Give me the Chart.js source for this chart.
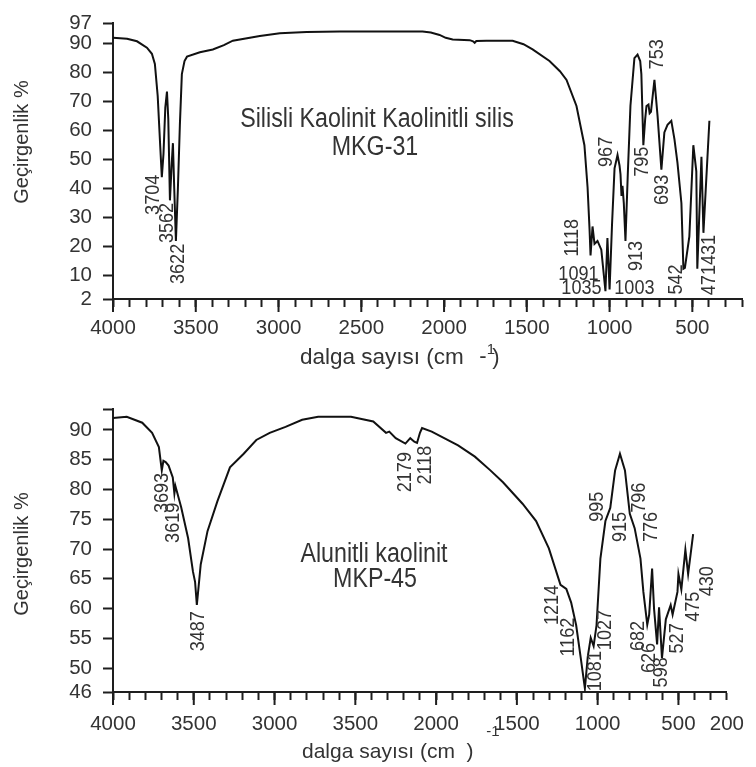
<!DOCTYPE html>
<html>
<head>
<meta charset="utf-8">
<script src="https://cdn.jsdelivr.net/npm/chart.js@4.4.7/dist/chart.umd.min.js"></script>
<style>
  html, body { margin: 0; padding: 0; background: #fff; }
  #wrap { position: relative; width: 756px; height: 767px; overflow: hidden; }
  canvas { position: absolute; left: 0; }
  #topChart { top: 0; }
  #bottomChart { top: 380px; }
</style>
</head>
<body>
<div id="wrap">
  <canvas id="topChart" width="756" height="380"></canvas>
  <canvas id="bottomChart" width="756" height="387"></canvas>
</div>
<script>
// ---- MKG-31 (Silisli Kaolinit) spectrum ----
const topWavenumbers = [4000, 3915, 3855, 3795, 3765, 3747, 3730, 3715, 3705, 3695, 3684, 3674, 3666, 3656,
  3646, 3638, 3630, 3620, 3608, 3596, 3584, 3568, 3553, 3475, 3397, 3330, 3276, 3113, 2992, 2830, 2630,
  2130, 2080, 2027, 1990, 1948, 1845, 1825, 1815, 1805, 1745, 1665, 1586, 1520, 1465, 1363, 1300, 1260,
  1200, 1152, 1133, 1121, 1115, 1103, 1091, 1073, 1050, 1025, 1013, 1000, 985, 970, 952, 940, 934, 928,
  922, 914, 904, 890, 874, 850, 831, 815, 808, 796, 785, 777, 765, 758, 750, 729, 710, 687, 669, 650,
  627, 608, 590, 566, 554, 545, 518, 494, 476, 470, 445, 433, 397];
const topTransmittance = [92, 91.7, 90.8, 88.6, 86.5, 83, 72, 55, 44, 52, 68, 73.5, 64, 36,
  48, 55.7, 40, 22, 40, 62, 79.5, 84, 85.5, 87, 88, 89.5, 91, 92.6, 93.6, 94, 94.2,
  94.2, 93.8, 93, 92, 91.4, 91.2, 90.8, 90.3, 90.9, 91, 91, 91, 89.8, 88, 84, 80.5, 77.5,
  68.5, 55, 40.5, 26, 17, 27, 21, 22, 19, 4.7, 23, 5.3, 28, 47, 51.6, 48, 45, 37.5,
  41, 35, 22, 45, 68.5, 85, 86.2, 84, 79.5, 55, 64, 68.5, 69, 66, 66.5, 77.5, 65, 46.6, 59.4, 62,
  63.4, 57, 49, 35, 12.4, 12.7, 23.6, 55, 46, 12.4, 51, 24.8, 63.4];

// ---- MKP-45 (Alunitli kaolinit) spectrum ----
const bottomWavenumbers = [4000, 3915, 3819, 3758, 3716, 3698, 3688, 3674, 3656, 3630, 3620, 3614, 3578,
  3535, 3505, 3492, 3481, 3457, 3415, 3354, 3276, 3191, 3113, 3030, 2932, 2829, 2730, 2527, 2389, 2310,
  2290, 2250, 2190, 2160, 2135, 2118, 2100, 2087, 2027, 1864, 1760, 1664, 1586, 1465, 1381, 1302, 1230,
  1194, 1164, 1133, 1103, 1079, 1061, 1043, 1025, 1007, 983, 952, 922, 892, 862, 831, 801, 771, 735,
  717, 693, 681, 663, 651, 632, 620, 602, 578, 548, 536, 506, 500, 482, 457, 440, 409];
const bottomTransmittance = [92, 92.2, 91.2, 89.5, 87.1, 83.2, 84.8, 84.6, 84, 82, 79.3, 80.6, 77,
  71.8, 66.2, 64.5, 60.6, 67.4, 73, 78, 83.7, 86, 88.3, 89.5, 90.5, 91.7, 92.2, 92.2, 91.4, 89.5,
  89.7, 88.6, 87.7, 88.6, 88, 87.8, 89.5, 90.3, 89.7, 87.4, 85.5, 83.2, 81.2, 77.6, 74.7, 70.1, 64,
  63.3, 61, 57.2, 51.4, 46.6, 52, 55.1, 53.7, 57.2, 68.4, 74.7, 76.9, 83.2, 86, 83.2, 75.9, 73.5, 68.4,
  62.8, 57.3, 59, 66.7, 60, 54, 60.2, 51.7, 58.2, 60.6, 59, 62.8, 65.8, 63.2, 69.9, 65.8, 72.5];

// ---- axis ticks ----
const xMajorTicks = [4000, 3500, 3000, 2500, 2000, 1500, 1000, 500];
const topXTickValues = [4000, 3500, 3000, 2500, 2000, 1500, 1000, 500];
const topXTickLabels = ['4000', '3500', '3000', '2500', '2000', '1500', '1000', '500'];
const bottomXTickValues = [4000, 3500, 3000, 2500, 2000, 1500, 1000, 500, 200];
const bottomXTickLabels = ['4000', '3500', '3000', '3500', '2000', '1500', '1000', '500', '200'];
const topYTicks = [2, 10, 20, 30, 40, 50, 60, 70, 80, 90, 97];
const bottomYTicks = [46, 50, 55, 60, 65, 70, 75, 80, 85, 90, 93.5];
const bottomYLabelled = [46, 50, 55, 60, 65, 70, 75, 80, 85, 90];

// ---- peak labels: text, wavenumber, transmittance, rotated ----
const topPeakText = ['3704', '3562', '3622', '1118', '1091', '1035', '1003', '967', '913', '795', '753', '693', '542', '471431'];
const topPeakWn = [3759, 3674, 3608, 1224, 1188, 1170, 850, 1019, 838, 801, 711, 681, 596, 397];
const topPeakT = [37.9, 28.2, 14.1, 23.1, 10.4, 5.7, 5.7, 52.7, 16.8, 49.3, 86.3, 39.6, 8.7, 13.7];
const topPeakRot = [1, 1, 1, 1, 0, 0, 0, 1, 1, 1, 1, 1, 1, 1];

const bottomPeakText = ['3693', '3619', '3487', '2179', '2118', '1214', '1162', '1027', '1081', '995', '915', '796', '776', '682', '626', '598', '527', '475', '430'];
const bottomPeakWn = [3698, 3626, 3475, 2190, 2069, 1284, 1182, 952, 1013, 1001, 862, 741, 669, 747, 681, 608, 506, 409, 325];
const bottomPeakT = [79.4, 74.4, 56.2, 82.9, 84.1, 60.6, 55.2, 56.4, 49.5, 77.1, 73.7, 78.6, 73.7, 55.4, 51.7, 49.3, 55, 60.3, 64.6];

const FONT = '"Liberation Sans", Arial, Helvetica, sans-serif';
const INK = '#333';
const AXIS = '#1e1e1e';

// squeeze < 1 narrows the glyphs along the text direction
function drawText(ctx, text, x, y, size, rotated, align, squeeze) {
  ctx.save();
  ctx.font = size + 'px ' + FONT;
  ctx.fillStyle = INK;
  ctx.textAlign = align || 'center';
  ctx.textBaseline = 'middle';
  ctx.translate(x, y);
  if (rotated) ctx.rotate(-Math.PI / 2);
  ctx.scale(squeeze || 1, 1);
  ctx.fillText(text, 0, 0);
  ctx.restore();
}

// draws the long major ticks, peak numbers and the free texts
const annotatePlugin = {
  id: 'annotate',
  afterDraw(chart, args, opts) {
    const { ctx, chartArea } = chart;
    const x = chart.scales.x, y = chart.scales.y;
    ctx.save();
    ctx.strokeStyle = AXIS;
    ctx.lineWidth = 2;
    xMajorTicks.forEach(v => {
      const px = x.getPixelForValue(v);
      ctx.beginPath();
      ctx.moveTo(px, chartArea.bottom);
      ctx.lineTo(px, chartArea.bottom + 13);
      ctx.stroke();
    });
    ctx.restore();

    opts.peaks.text.forEach((t, i) => {
      const rot = opts.peaks.rot ? opts.peaks.rot[i] : 1;
      drawText(ctx, t, x.getPixelForValue(opts.peaks.wn[i]), y.getPixelForValue(opts.peaks.t[i]),
        21, rot, 'center', 0.86);
    });
    opts.notes.forEach(n => drawText(ctx, n.text, n.x, n.y, n.size, n.rot, n.align, n.squeeze));
  }
};

function makeChart(id, cfg) {
  return new Chart(document.getElementById(id), {
    type: 'scatter',
    data: {
      datasets: [{
        data: cfg.wn.map((w, i) => ({ x: w, y: cfg.tr[i] })),
        showLine: true,
        borderColor: '#111',
        borderWidth: 2,
        pointRadius: 0,
        tension: 0,
        fill: false,
      }],
    },
    options: {
      responsive: false,
      animation: false,
      layout: { padding: cfg.padding },
      plugins: {
        legend: { display: false },
        tooltip: { enabled: false },
        annotate: { peaks: cfg.peaks, notes: cfg.notes },
      },
      scales: {
        x: {
          type: 'linear',
          reverse: true,
          min: 200,
          max: 4000,
          afterFit: s => { s.height = cfg.xHeight; },
          ticks: {
            stepSize: 100,
            autoSkip: false,
            maxRotation: 0,
            minRotation: 0,
            padding: cfg.xPad,
            color: INK,
            font: { family: FONT, size: 20.5 },
            callback: v => {
              const i = cfg.xTickValues.indexOf(v);
              return i < 0 ? '' : cfg.xTickLabels[i];
            },
          },
          grid: { drawOnChartArea: false, drawTicks: true, tickLength: 8, tickColor: AXIS, tickWidth: 2 },
          border: { display: true, color: AXIS, width: 2 },
        },
        y: {
          min: cfg.yMin,
          max: cfg.yMax,
          afterBuildTicks: s => { s.ticks = cfg.yTicks.map(v => ({ value: v })); },
          afterFit: s => { s.width = 113; },
          ticks: {
            autoSkip: false,
            padding: 11,
            color: INK,
            font: { family: FONT, size: 20.5 },
            callback: v => (cfg.yLabelled.includes(v) ? String(v) : ''),
          },
          grid: { drawOnChartArea: false, drawTicks: true, tickLength: 10, tickColor: AXIS, tickWidth: 2 },
          border: { display: true, color: AXIS, width: 2 },
        },
      },
    },
    plugins: [annotatePlugin],
  });
}

makeChart('topChart', {
  wn: topWavenumbers,
  tr: topTransmittance,
  yMin: 2,
  yMax: 97,
  yTicks: topYTicks,
  yLabelled: topYTicks,
  xTickValues: topXTickValues,
  xTickLabels: topXTickLabels,
  padding: { left: 0, right: 14, top: 17, bottom: 0 },
  xHeight: 81,
  xPad: 9,
  peaks: { text: topPeakText, wn: topPeakWn, t: topPeakT, rot: topPeakRot },
  notes: [
    { text: 'Geçirgenlik %', x: 22, y: 142, size: 20, rot: 1 },
    { text: 'Silisli Kaolinit Kaolinitli silis', x: 377, y: 120, size: 27, squeeze: 0.86 },
    { text: 'MKG-31', x: 375, y: 148, size: 27, squeeze: 0.86 },
    { text: 'dalga sayısı (cm', x: 300, y: 358, size: 22.5, align: 'left' },
    { text: '-', x: 483, y: 357, size: 22 },
    { text: ')', x: 496, y: 358, size: 22 },
    { text: '1', x: 491, y: 350, size: 15 },
  ],
});

makeChart('bottomChart', {
  wn: bottomWavenumbers,
  tr: bottomTransmittance,
  yMin: 46,
  yMax: 93.5,
  yTicks: bottomYTicks,
  yLabelled: bottomYLabelled,
  xTickValues: bottomXTickValues,
  xTickLabels: bottomXTickLabels,
  padding: { left: 0, right: 16, top: 29, bottom: 0 },
  xHeight: 75,
  xPad: 12,
  peaks: { text: bottomPeakText, wn: bottomPeakWn, t: bottomPeakT },
  notes: [
    { text: 'Geçirgenlik %', x: 22, y: 174, size: 20, rot: 1 },
    { text: 'Alunitli kaolinit', x: 374, y: 175, size: 27, squeeze: 0.86 },
    { text: 'MKP-45', x: 375, y: 200, size: 27, squeeze: 0.86 },
    { text: 'dalga sayısı (cm  )', x: 302, y: 372, size: 21, align: 'left' },
    { text: '-1', x: 493, y: 352, size: 15 },
  ],
});
</script>
</body>
</html>
